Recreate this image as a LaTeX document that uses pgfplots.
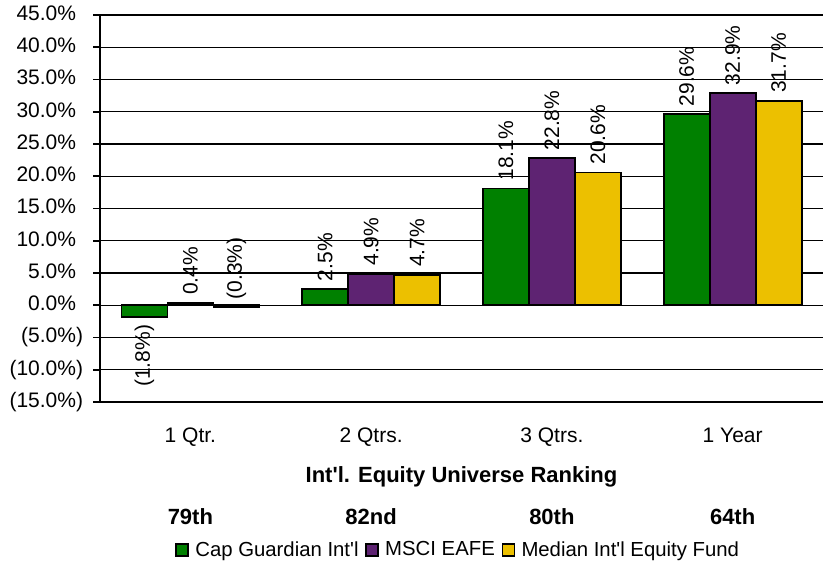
\documentclass[border=0pt]{standalone}
\usepackage{pgfplots}
\pgfplotsset{compat=1.18}
\usepackage{pgfplotstable}
\usepackage{fontspec}
\setmainfont{Liberation Sans}

\definecolor{cgGreen}{RGB}{0,128,0}
\definecolor{msPurple}{RGB}{94,35,114}
\definecolor{mdYellow}{RGB}{236,192,0}

% returns in percent
\pgfplotstableread{
x y lbl
0 -1.8 (1.8\%)
1 2.5 2.5\%
2 18.1 18.1\%
3 29.6 29.6\%
}\capguard
\pgfplotstableread{
x y lbl
0 0.4 0.4\%
1 4.9 4.9\%
2 22.8 22.8\%
3 32.9 32.9\%
}\msci
\pgfplotstableread{
x y lbl
0 -0.3 (0.3\%)
1 4.7 4.7\%
2 20.6 20.6\%
3 31.7 31.7\%
}\median

\newcommand{\txt}{\fontsize{15.75}{19}\selectfont}
\newcommand{\rank}[1]{\fontsize{16.5}{19}\selectfont\bfseries #1}
\newcommand{\q}{\textquotesingle}
\pgfplotsset{
  bars/.style={draw=black, line width=1.3pt},
  % invisible copy of a series that only carries the value labels
  labels/.style={forget plot, draw=none, fill=none,
    point meta=explicit symbolic,
    nodes near coords={\pgfplotspointmeta},
    every node near coord/.append style={rotate=90, anchor=#1, font=\txt,
      inner sep=0pt, outer sep=6pt}},
}

\begin{document}
\begin{tikzpicture}
\begin{axis}[
    at={(75pt,120pt)}, anchor=south west,
    scale only axis,
    width=542.25pt, height=290.25pt,
    ybar=0pt, bar width=34.5pt,
    xmin=-0.5, xmax=3.5,
    ymin=-15, ymax=45,
    axis lines*=left,
    axis line style={line width=1.4pt},
    xtick={0,1,2,3},
    xticklabels={{1 Qtr.\\[42pt]\rank{79th}},{2 Qtrs.\\[42pt]\rank{82nd}},
                 {3 Qtrs.\\[42pt]\rank{80th}},{1 Year\\[42pt]\rank{64th}}},
    xticklabel style={align=center, anchor=north, inner sep=0pt, yshift=-14.5pt, font=\txt},
    xtick style={draw=none},
    ytick={-15,-10,...,45},
    yticklabels={{(15.0\%)},{(10.0\%)},{(5.0\%)},{0.0\%\phantom{)}},{5.0\%\phantom{)}},
                 {10.0\%\phantom{)}},{15.0\%\phantom{)}},{20.0\%\phantom{)}},{25.0\%\phantom{)}},
                 {30.0\%\phantom{)}},{35.0\%\phantom{)}},{40.0\%\phantom{)}},{45.0\%\phantom{)}}},
    yticklabel style={anchor=east, inner sep=0pt, xshift=-7.5pt, font=\txt},
    ytick style={line width=1.2pt, black},
    tick align=outside, tick pos=left,
    major tick length=5pt,
    ymajorgrids,
    grid style={line width=1.1pt, black},
    xlabel={Int\q l. Equity Universe Ranking},
    xlabel style={at={(axis description cs:0.5,-0.194)}, anchor=center,
        font=\fontsize{16.5}{19}\selectfont\bfseries},
    legend style={at={(0.494,-0.382)}, anchor=center, draw=none, fill=none,
        legend columns=-1, font=\fontsize{15.25}{18}\selectfont, nodes={inner sep=0pt},
        /tikz/every odd column/.append style={column sep=5pt},
        /tikz/every even column/.append style={column sep=5pt}},
    legend image code/.code={\draw[#1, draw=black, line width=1pt] (0pt,-4.5pt) rectangle (9pt,4.5pt);},
]
\addplot[fill=cgGreen, bars, bar shift=-34.5pt] table[x=x, y=y] {\capguard};
\addplot[fill=msPurple, bars, bar shift=0pt] table[x=x, y=y] {\msci};
\addplot[fill=mdYellow, bars, bar shift=34.5pt] table[x=x, y=y] {\median};
\legend{Cap Guardian Int\q l, MSCI EAFE, Median Int\q l Equity Fund}

\addplot[labels=west, bar shift=-34.5pt, skip coords between index={0}{1}] table[x=x, y=y, meta=lbl] {\capguard};
\addplot[labels=east, bar shift=-34.5pt, skip coords between index={1}{4}] table[x=x, y=y, meta=lbl] {\capguard};
\addplot[labels=west, bar shift=0pt] table[x=x, y=y, meta=lbl] {\msci};
\addplot[labels=west, bar shift=34.5pt] table[x=x, y=y, meta=lbl] {\median};
\end{axis}
\pgfresetboundingbox
\path (0,0) rectangle (617.25pt,421.5pt);
\end{tikzpicture}
\end{document}
